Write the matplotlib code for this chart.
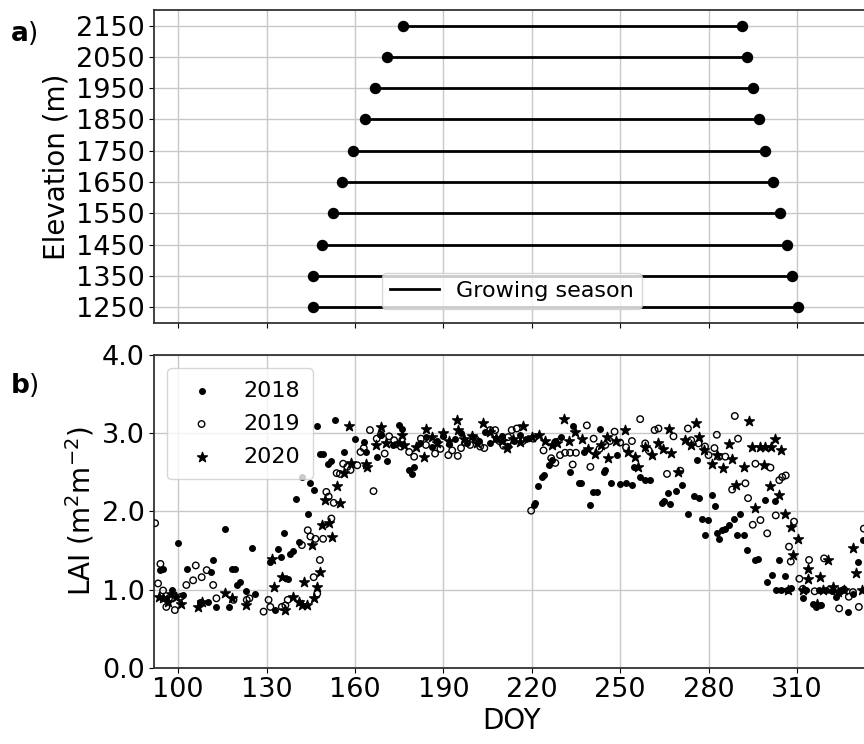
import numpy as np
import matplotlib
matplotlib.use('Agg')
import matplotlib.pyplot as plt

# elevation bands and growing season start / end (DOY)
elev = [1250, 1350, 1450, 1550, 1650, 1750, 1850, 1950, 2050, 2150]
gs_start = [145.8, 145.8, 148.8, 152.5, 155.5, 159.2, 163.4, 166.7, 171.0, 176.3]
gs_end = [310.3, 308.4, 306.6, 304.2, 301.9, 299.3, 297.0, 295.0, 292.9, 291.3]

doy_2018 = [93.8, 94.9, 96, 98, 100, 101.7, 103, 107.4, 110.2, 111, 112, 113, 115.9, 117.4,
            118.2, 119.3, 120, 121, 123, 125, 126, 131.2, 133, 134, 135, 136, 137.2, 138, 139,
            139.9, 141, 142.2, 144, 144.9, 146.2, 147, 148.3, 149, 151, 152, 153.2, 156.2, 160,
            163, 163.6, 167.4, 169, 171, 173, 175, 176, 178.4, 179.2, 180, 182, 184, 186, 188,
            190, 192, 194, 196, 198, 200, 202, 204, 206, 208, 210, 212, 214, 216, 218, 220.6,
            221.1, 222, 223.4, 224.3, 225.7, 226.8, 228, 230, 233, 233.9, 235.9, 236.8, 237.6,
            239.8, 240.7, 242, 243, 244.4, 245, 247, 248.9, 249.8, 252.1, 254, 254.6, 256.8,
            258.3, 260.2, 264.2, 265, 266.2, 267, 269, 271, 273, 275, 276, 276.6, 277.8, 278.9,
            279.8, 281.1, 282.2, 282.8, 283.6, 284.6, 285.7, 286.8, 288.5, 289.6, 290.8, 291.9,
            293, 295.7, 296.7, 299, 299.7, 301.4, 302.5, 302.8, 303.8, 304.5, 305.8, 306.5, 308,
            312, 313, 315.5, 316.5, 317.5, 318.3, 320, 322, 323.3, 325, 327.3, 329, 330.7, 332.3]
lai_2018 = [1.25, 1.27, 0.88, 1.0, 1.6, 0.93, 1.26, 0.84, 0.84, 1.23, 1.38, 0.78, 1.77, 0.78,
            1.27, 1.27, 1.06, 1.1, 0.98, 1.53, 0.94, 1.36, 0.74, 1.52, 1.42, 1.72, 1.14, 1.46, 1.5,
            2.16, 1.61, 2.44, 1.97, 2.36, 2.27, 3.09, 2.74, 2.74, 2.61, 2.64, 3.17, 2.76, 2.93,
            2.89, 2.76, 2.7, 2.98, 2.64, 2.85, 3.1, 3.05, 2.53, 2.48, 2.57, 2.88, 2.95, 2.82, 2.9,
            2.97, 2.86, 2.92, 3.0, 2.88, 2.95, 2.9, 3.02, 2.87, 2.93, 2.96, 2.84, 2.9, 2.98, 2.92,
            2.08, 2.11, 2.32, 2.44, 2.46, 2.59, 2.66, 2.9, 2.95, 2.51, 3.09, 2.36, 2.37, 2.76,
            2.08, 2.25, 2.25, 3.05, 2.51, 2.53, 2.37, 2.72, 2.35, 2.37, 2.34, 2.57, 2.44,
            2.4, 2.4, 2.11, 2.14, 2.23, 2.1, 2.26, 2.34, 1.97, 2.2, 2.66, 2.17, 1.91, 1.7,
            1.89, 2.21, 2.07, 1.72, 1.65, 1.76, 1.78, 1.83, 1.9, 1.7, 1.97, 1.7,
            1.51, 1.38, 1.39, 2.15, 1.1, 1.19, 2.14, 1.0, 1.38, 1.0, 1.17, 1.0, 1.02,
            0.89, 1.0, 0.82, 0.78, 1.0, 0.8, 1.0, 0.98, 0.91, 1.0, 0.72, 0.95, 1.36, 1.63]

doy_2019 = [92.2, 93.2, 94, 94.9, 96, 96.9, 98.9, 101, 102.8, 105.1, 106, 108, 109.7, 111.9,
            113, 118.8, 123.3, 124.2, 129, 130.7, 131.3, 135.2, 136.4, 137.2, 142, 144, 144.9,
            146, 146.6, 147.2, 148.1, 149.2, 150.3, 151.1, 152, 152.8, 153.8, 154.9, 156, 157.4,
            158.5, 160.8, 161.9, 163, 165.1, 166.3, 167.4, 168.8, 170.1, 171.6, 173.3, 175.6,
            178.4, 180.1, 182.4, 184.1, 187.2, 189, 191.7, 193, 194.9, 196, 197.5, 199.1, 201,
            202.5, 203.9, 205.9, 207.6, 209, 210.4, 212, 213.2, 214.9, 217, 219.8, 220.5, 224,
            226.6, 228, 229.6, 231.3, 233, 233.9, 235, 238.7, 239.9, 241, 243, 245, 246.5, 248.1,
            250, 252, 254, 256.8, 258.5, 259.7, 261.7, 263, 265.9, 268.1, 270.4, 273, 274.1,
            276.6, 278.8, 280, 282, 282.8, 283.6, 285.7, 288, 288.9, 290, 292.5, 293.4, 295,
            295.9, 297.6, 299.9, 301, 302.8, 304, 305, 306.2, 307.3, 307.9, 309, 310.8, 312,
            314.1, 316, 319.2, 321, 323.7, 324.3, 326, 327.6, 329, 331, 332.7]
lai_2019 = [1.85, 1.08, 1.33, 0.99, 0.78, 0.89, 0.74, 0.91, 1.06, 1.12, 1.31, 1.16, 1.25, 1.06,
            0.89, 0.87, 0.87, 0.89, 0.72, 0.87, 0.78, 0.78, 0.8, 0.87, 1.57, 1.76, 1.68,
            1.16, 1.65, 0.95, 1.38, 1.65, 2.25, 2.19, 1.91, 2.11, 2.49, 2.48, 2.61, 2.57,
            2.53, 2.59, 2.76, 2.81, 3.04, 2.26, 2.93, 2.98, 2.74, 2.96, 2.91, 2.83,
            2.76, 2.7, 2.93, 2.85, 2.74, 2.8, 2.72, 2.78, 2.71, 2.81, 2.88, 2.85, 2.92,
            2.83, 2.81, 3.04, 3.04, 2.9, 2.84, 2.95, 3.04, 3.06, 2.9, 2.01, 2.93, 2.78,
            2.68, 2.62, 2.72, 2.75, 2.75, 2.6, 2.75, 3.1, 2.57, 2.93, 2.8, 2.85, 2.9, 3.02,
            2.88, 2.82, 2.9, 3.18, 2.87, 2.78, 3.04, 3.06, 2.48, 2.96, 2.52, 3.06, 2.91,
            2.87, 2.83, 2.72, 2.81, 2.98, 2.7, 2.7, 2.28, 3.22, 2.93, 2.36, 2.17, 1.83,
            2.61, 1.89, 1.72, 2.56, 1.95, 2.4, 2.44, 2.46, 1.55, 1.36, 1.87, 1.14, 1.01,
            1.38, 0.98, 1.4, 1.0, 0.95, 0.76, 1.0, 0.91, 0.97, 0.78, 1.78]

doy_2020 = [93.5, 94.9, 96.6, 97.7, 99.4, 101.1, 106.8, 108, 115.9, 118.2, 123.1, 131.8, 132.6,
            135.2, 136.4, 139, 140.9, 142.6, 142, 143.8, 145.5, 146, 147.2, 148.1, 148.9, 150,
            151.1, 152.3, 154, 155.1, 156.2, 158, 158.5, 163.6, 164.2, 167, 168.8, 170.5, 175,
            176.1, 176.7, 180.7, 183.5, 184.1, 186, 188, 190, 192, 194.5, 195, 197, 199.6, 201.5,
            203.6, 205.9, 208, 210, 211.5, 213.5, 216, 217.2, 220, 222.3, 224.5, 226.8, 228.5,
            230.8, 232.5, 234.7, 237, 239, 241.5, 243.5, 245.5, 246, 248.5, 251.7, 252.8, 255,
            256.1, 258.5, 260.8, 262.8, 264.5, 266.7, 267.3, 269.6, 272.1, 274, 275.7, 276.6,
            278.5, 281.1, 283, 285, 286.8, 287.9, 289.3, 291.9, 293.8, 294.8, 295.9, 297.6,
            298.8, 299.3, 301, 301.3, 302.7, 303.9, 304.7, 306, 306.9, 307.9, 308.6, 310.2,
            312, 313.8, 313.9, 316.7, 317.8, 319, 320.6, 322.3, 324, 326, 329.1, 330.2, 332]
lai_2020 = [0.91, 0.89, 0.84, 0.95, 0.91, 0.82, 0.78, 0.84, 0.96, 0.89, 0.8, 1.39, 1.04,
            1.16, 0.74, 0.91, 0.84, 1.1, 0.8, 0.8, 1.57, 0.89, 1.04, 1.23, 1.83, 2.15,
            1.85, 1.68, 2.32, 2.11, 2.49, 3.09, 2.62, 2.61, 2.57, 2.85, 3.08, 2.87, 2.87,
            2.98, 2.85, 2.83, 2.7, 3.06, 2.95, 2.88, 3.0, 2.9, 3.17, 3.04, 2.92, 2.96, 2.88,
            3.13, 3.02, 2.94, 2.9, 2.81, 2.92, 2.89, 3.09, 2.95, 2.98, 2.9, 2.85, 2.88,
            3.18, 2.9, 3.02, 2.92, 2.8, 2.74, 2.85, 2.95, 2.68, 2.9, 3.04, 2.76, 2.7,
            2.57, 2.82, 2.72, 2.87, 2.8, 3.06, 2.75, 2.51, 2.91, 2.85, 3.13, 2.95,
            2.78, 2.61, 2.72, 2.55, 2.86, 2.67, 2.34, 2.57, 3.16, 2.83, 2.04, 2.83,
            2.59, 2.83, 2.32, 2.83, 2.93, 2.21, 2.78, 1.97, 0.99, 1.8, 1.44, 1.65,
            1.0, 1.27, 1.14, 0.82, 1.16, 1.0, 1.38, 1.04, 0.97, 1.0, 1.53, 1.21, 1.0]

xticks = [100, 130, 160, 190, 220, 250, 280, 310]

fig = plt.figure(figsize=(8.64, 7.44), dpi=100)
ax1 = fig.add_axes([0.178, 0.566, 0.829, 0.4206])
ax2 = fig.add_axes([0.178, 0.1022, 0.829, 0.4207], sharex=ax1)

# a) growing season per elevation band
for i, e in enumerate(elev):
    ax1.plot([gs_start[i], gs_end[i]], [e, e], color='black', lw=2,
             label='Growing season' if i == 0 else None, zorder=3)
ax1.scatter(gs_start, elev, color='black', s=52, zorder=4)
ax1.scatter(gs_end, elev, color='black', s=52, zorder=4)
ax1.set_ylim(1200, 2200)
ax1.set_yticks(elev)
ax1.set_ylabel('Elevation (m)', fontsize=20, labelpad=4)
ax1.grid(True, color='#c8c8c8', lw=1)
ax1.set_axisbelow(True)
ax1.tick_params(labelsize=19.5, labelbottom=False, pad=3)
ax1.legend(loc='lower center', fontsize=16, handlelength=2.2, borderpad=0.35,
           bbox_to_anchor=(0.5, 0.01))

# b) LAI scatter
ax2.scatter(doy_2018, lai_2018, s=16, color='black', label='2018', zorder=3)
ax2.scatter(doy_2019, lai_2019, s=22, facecolors='none', edgecolors='black',
            linewidths=1, label='2019', zorder=3)
ax2.scatter(doy_2020, lai_2020, s=55, marker='*', color='black', label='2020', zorder=3)
ax2.set_xlim(91.75, 334.8)
ax2.set_ylim(0, 4)
ax2.set_xticks(xticks)
ax2.set_yticks([0, 1, 2, 3, 4])
ax2.set_yticklabels(['0.0', '1.0', '2.0', '3.0', '4.0'])
ax2.set_xlabel('DOY', fontsize=20, labelpad=3)
ax2.set_ylabel('LAI (m$^2$m$^{-2}$)', fontsize=20, labelpad=4)
ax2.grid(True, color='#c8c8c8', lw=1)
ax2.set_axisbelow(True)
ax2.tick_params(labelsize=19.5, pad=3)
ax2.legend(loc='upper left', fontsize=16, handletextpad=0.9, borderpad=0.55,
           labelspacing=0.6, borderaxespad=0.6)

for ax in (ax1, ax2):
    for sp in ax.spines.values():
        sp.set_color('#333333')
        sp.set_linewidth(1.3)

fig.text(0.012, 0.955, r'$\mathbf{a}$)', fontsize=19, va='center')
fig.text(0.012, 0.483, r'$\mathbf{b}$)', fontsize=19, va='center')

fig.savefig('out.png', dpi=100)
